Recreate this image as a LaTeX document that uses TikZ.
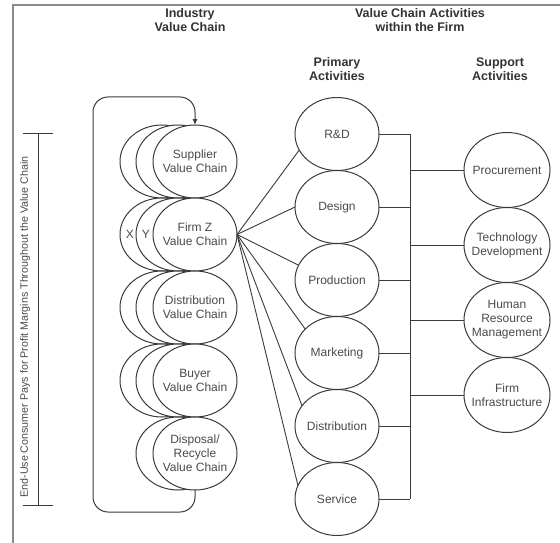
\documentclass[tikz,border=0pt]{standalone}
\usepackage{fontspec}
\setmainfont{Liberation Sans}
\usetikzlibrary{positioning,arrows.meta,shapes.geometric}
\definecolor{LineGray}{HTML}{3A3A3A}
\definecolor{TextGray}{HTML}{4A4A4A}
\definecolor{FrameGray}{HTML}{8A8A8A}
\pgfdeclarelayer{back}
\pgfsetlayers{back,main}

\begin{document}
\begin{tikzpicture}[
  x=1pt, y=-1pt,
  ell/.style={ellipse, draw=LineGray, line width=1pt, fill=white,
    minimum width=84pt, minimum height=73pt, inner sep=0pt, outer sep=0pt},
  supp/.style={ell, minimum width=86pt, minimum height=75pt},
  txt/.style={align=center, text=TextGray, font=\fontsize{12}{14}\selectfont},
  head/.style={align=center, text=black!80, font=\fontsize{12.5}{14}\selectfont\bfseries},
  lnk/.style={draw=LineGray, line width=0.9pt},
  arr/.style={-{Latex[length=6pt,width=5pt]}, line width=1pt, draw=LineGray, rounded corners=15pt}
]
  \useasboundingbox (0,0) rectangle (560,543);
  \coordinate (frtr) at (560,5);
  \coordinate (frtl) at (13,5);
  \coordinate (frbl) at (13,543);
  \draw[FrameGray, line width=1.2pt] (frtr) -- (frtl) -- (frbl);

  \node[head] (ivc) at (190,20) {Industry\\Value Chain};
  \node[head] (vca) at (420,20) {Value Chain Activities\\within the Firm};
  \node[head] (pa) at (337,69) {Primary\\Activities};
  \node[head] (sa) at (500,69) {Support\\Activities};

  \node[ell] (sup) at (195,161.5) {};
  \node[ell, below=0pt of sup] (firm) {};
  \node[ell, below=0pt of firm] (dist) {};
  \node[ell, below=0pt of dist] (buy) {};
  \node[ell, below=0pt of buy] (disp) {};
  \begin{pgfonlayer}{back}
    \foreach \r in {sup,firm,dist,buy} \node[ell] at ([xshift=-33pt]\r) {};
    \foreach \r in {sup,firm,dist,buy,disp} \node[ell] at ([xshift=-17pt]\r) {};
  \end{pgfonlayer}
  \node[txt] at (sup) {Supplier\\Value Chain};
  \node[txt] at (firm) {Firm Z\\Value Chain};
  \node[txt] at (dist) {Distribution\\Value Chain};
  \node[txt] at (buy) {Buyer\\Value Chain};
  \node[txt] at (disp) {Disposal/\\Recycle\\Value Chain};
  \node[txt] (x) at ([xshift=-65pt]firm) {X};
  \node[txt] (y) at ([xshift=-49pt]firm) {Y};

  \coordinate (loopbl) at (93,512);
  \coordinate (looptl) at (93,97);
  \draw[arr] (disp.south) |- (loopbl) -- (looptl) -| (sup.north);

  \node[ell] (rd) at (337,134) {};
  \node[ell, below=0pt of rd] (des) {};
  \node[ell, below=0pt of des] (prod) {};
  \node[ell, below=0pt of prod] (mkt) {};
  \node[ell, below=0pt of mkt] (pdist) {};
  \node[ell, below=0pt of pdist] (svc) {};
  \node[txt] at (rd) {R\&D};
  \node[txt] at (des) {Design};
  \node[txt] at (prod) {Production};
  \node[txt] at (mkt) {Marketing};
  \node[txt] at (pdist) {Distribution};
  \node[txt] at (svc) {Service};

  \node[supp] (proc) at (507,170) {};
  \node[supp, below=0pt of proc] (tech) {};
  \node[supp, below=0pt of tech] (hrm) {};
  \node[supp, below=0pt of hrm] (infra) {};
  \node[txt] at (proc) {Procurement};
  \node[txt] at (tech) {Technology\\Development};
  \node[txt] at (hrm) {Human\\Resource\\Management};
  \node[txt] at (infra) {Firm\\Infrastructure};

  \foreach \t/\a in {rd/203, des/180, prod/159, mkt/143, pdist/150, svc/161}
    \draw[lnk] (firm.east) -- (\t.\a);

  \coordinate (bus) at (410,134);
  \draw[lnk] (rd.east -| bus) -- (svc.east -| bus);
  \foreach \p in {rd,des,prod,mkt,pdist,svc}
    \draw[lnk] (\p.east) -- (\p.east -| bus);
  \foreach \s in {proc,tech,hrm,infra}
    \draw[lnk] (\s.west -| bus) -- (\s.west);

  \coordinate (brtop) at (38,133);
  \coordinate (brbot) at (38,505);
  \draw[lnk] (brtop) -- (brbot);
  \draw[lnk] ([xshift=-15pt]brtop) -- ([xshift=15pt]brtop);
  \draw[lnk] ([xshift=-15pt]brbot) -- ([xshift=15pt]brbot);
  \node[txt, rotate=90, font=\fontsize{10.7}{12}\selectfont] (pays) at (25,327)
    {End-Use Consumer Pays for Profit Margins Throughout the Value Chain};
\end{tikzpicture}
\end{document}
